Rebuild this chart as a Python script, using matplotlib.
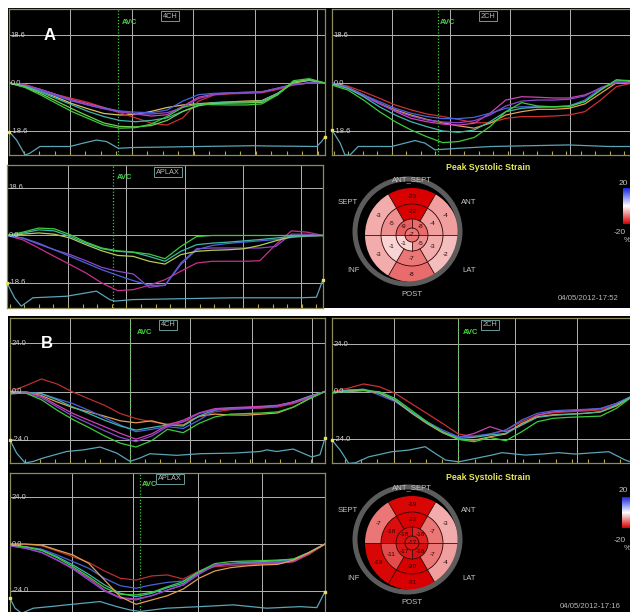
import numpy as np
import matplotlib
matplotlib.use("Agg")
import matplotlib.pyplot as plt
import matplotlib.transforms as mtransforms
from matplotlib.patches import Wedge, Circle, Rectangle
from matplotlib.colors import LinearSegmentedColormap

plt.rcParams['font.family'] = ['Liberation Sans', 'DejaVu Sans']

W, H = 630, 612

# ---------------- data ----------------
T = list(range(0, 101, 5))  # % of cardiac cycle

# Panel A, 4CH
A4CH_GREEN = [0, -1.7, -4.6, -7.9, -11.1, -13.7, -16.3, -17.5, -17.3, -15.9, -13.0, -9.4, -8.1, -8.4, -8.5, -8.5, -8.1, -4.6, 0.9, 1.7, 0]
A4CH_GREEN2 = [0, -1.5, -4.0, -7.0, -10.0, -12.8, -15.5, -16.8, -17.0, -16.5, -14.5, -11.0, -8.8, -7.9, -7.8, -7.7, -7.5, -4.5, 0.4, 1.4, 0]
A4CH_TEAL = [0, -1.2, -3.5, -6.0, -8.5, -11.0, -13.0, -14.5, -15.0, -14.5, -13.5, -11.0, -8.5, -7.6, -7.4, -7.3, -7.0, -4.0, 0.3, 1.2, 0]
A4CH_YELLOW = [0, -1.0, -3.0, -5.5, -8.0, -10.0, -11.8, -12.4, -12.2, -11.0, -9.5, -8.5, -8.0, -7.6, -7.3, -7.0, -6.8, -4.0, 0.0, 1.0, 0]
A4CH_RED = [0, -0.5, -2.5, -4.5, -6.0, -7.5, -9.5, -11.5, -13.5, -15.5, -16.3, -13.5, -7.0, -4.6, -4.2, -4.0, -3.8, -2.5, -0.8, 0, 0]
A4CH_MAGENTA = [0, -1.0, -2.5, -4.5, -6.5, -8.0, -9.5, -11.0, -12.0, -12.8, -12.3, -9.0, -5.5, -4.2, -3.8, -3.6, -3.4, -2.0, -0.5, 0, 0]
A4CH_BLUE = [0, -1.0, -3.0, -5.0, -7.0, -8.5, -9.8, -10.8, -11.3, -11.5, -10.5, -7.0, -4.5, -4.0, -3.8, -3.6, -3.4, -2.0, -0.6, 0, 0]
A4CH_PURPLE = [0, -0.8, -2.5, -4.5, -6.8, -8.5, -10.0, -11.2, -12.0, -12.0, -11.5, -9.5, -6.0, -4.5, -4.0, -3.8, -3.5, -2.2, -0.5, 0, 0]
A4CH_ECG_T = [0, 2.4, 5.1, 6.6, 9.8, 19.3, 23.5, 27.7, 30.9, 34.6, 39.3, 60.4, 77.3, 81.5, 97.4, 98.9, 100]
A4CH_ECG_V = [-18.8, -22.1, -27.9, -27.2, -24.6, -24.6, -23.3, -22.1, -22.7, -25.3, -25.0, -24.6, -24.3, -24.4, -24.6, -22.7, -20.8]
A4CH_AVC = 34.6

# Panel A, 2CH
A2CH_GREEN = [-0.8, -2.7, -6.6, -11.1, -15.0, -18.2, -20.8, -23.1, -22.7, -21.1, -16.9, -11.1, -7.6, -8.9, -9.2, -9.2, -7.2, -2.7, 1.2, 0.9, 0]
A2CH_TEAL = [-0.4, -2.1, -5.3, -9.2, -12.4, -15.0, -16.9, -18.6, -19.1, -18.2, -15.0, -11.1, -9.8, -9.4, -9.2, -8.9, -7.2, -2.7, 1.2, 0.5, 0]
A2CH_ORANGE = [0, -1.7, -4.6, -7.9, -10.4, -12.4, -14.1, -15.4, -16.6, -17.5, -15.6, -12.4, -11.1, -10.2, -10.2, -9.8, -8.1, -4.0, 0.1, 0, 0]
A2CH_RED = [0, -1.2, -3.4, -5.9, -8.5, -10.4, -12.0, -13.0, -14.1, -15.4, -15.4, -13.7, -13.0, -13.0, -12.8, -12.4, -11.1, -6.6, -1.4, 0, 0]
A2CH_MAGENTA = [0, -1.7, -4.6, -7.9, -11.0, -13.7, -15.0, -15.9, -16.3, -15.6, -11.7, -6.6, -5.3, -5.5, -5.8, -5.8, -4.6, -2.1, 0.1, 0.1, 0]
A2CH_BLUE = [0, -1.7, -4.6, -7.2, -9.8, -11.7, -13.0, -13.8, -13.8, -13.3, -11.7, -9.8, -9.2, -9.2, -9.2, -8.9, -6.6, -2.1, 0.5, 0.1, 0]
A2CH_PURPLE = [-0.4, -1.9, -5.0, -8.1, -10.7, -12.8, -14.3, -15.1, -15.4, -14.6, -12.4, -8.9, -7.0, -6.6, -6.6, -6.3, -5.0, -1.8, 0.4, 0.1, 0]
A2CH_ECG_T = [0, 2.6, 4.1, 5.7, 8.3, 18.9, 26.3, 29.4, 32.6, 40, 50.5, 74.8, 87.5, 100]
A2CH_ECG_V = [-18.2, -23.3, -27.9, -27.9, -24.6, -24.6, -22.3, -23.3, -25.9, -25.3, -24.6, -24.0, -24.6, -24.6]
A2CH_AVC = 33.5

# Panel A, APLAX
AAPLAX_GREEN = [0, 1.3, 2.9, 2.6, 0.3, -2.6, -4.9, -6.0, -6.5, -7.3, -9.1, -4.3, -0.4, 0, 0, 0, 0, 0, 0, 0, 0]
AAPLAX_TEAL = [0, 0.9, 2.2, 1.8, -0.4, -3.0, -5.2, -6.2, -6.6, -8.2, -10.1, -6.2, -3.6, -3.0, -2.6, -2.1, -1.6, -1.0, -0.4, -0.1, 0]
AAPLAX_YGREEN = [0, 0.5, 1.0, 0.5, -1.0, -3.6, -6.0, -7.8, -8.2, -10.1, -11.2, -7.5, -6.2, -5.8, -5.6, -5.2, -3.9, -2.1, -0.5, -0.1, 0]
AAPLAX_MAGENTA = [0, -1.0, -3.4, -5.6, -7.5, -9.9, -12.5, -14.0, -15.1, -20.3, -19.5, -10.8, -5.2, -4.9, -4.9, -4.9, -4.9, -4.3, 0.5, 0.5, 0]
AAPLAX_RED = [0, -1.7, -4.9, -8.2, -11.4, -14.7, -18.6, -21.6, -21.2, -19.5, -17.3, -14.0, -10.8, -10.1, -10.1, -10.1, -9.9, -3.6, 1.8, 1.3, 0]
AAPLAX_BLUE = [0, -1.0, -3.0, -5.6, -8.2, -10.8, -13.4, -15.6, -17.7, -19.5, -19.5, -11.4, -5.6, -3.9, -3.1, -2.6, -2.1, -1.6, -0.8, -0.3, 0]
AAPLAX_ECG_T = [0, 2.4, 4.5, 8.2, 18.8, 28.3, 32.5, 34.1, 39.9, 71.5, 92.6, 97.9, 100]
AAPLAX_ECG_V = [-18.6, -24.4, -27.7, -24.4, -23.8, -21.8, -25.1, -25.7, -25.1, -24.4, -24.4, -24.2, -17.3]
AAPLAX_AVC = 33.5

# Panel B, 4CH
B4CH_RED = [0, 2.9, 6.2, 3.7, -0.3, -3.6, -6.8, -10.9, -13.4, -15.0, -16.1, -15.0, -12.6, -10.1, -9.0, -8.5, -8.2, -7.7, -6.0, -3.1, 0]
B4CH_ORANGE = [0, -0.3, -2.0, -5.2, -8.0, -10.1, -12.2, -14.5, -15.5, -14.5, -16.6, -16.6, -12.2, -11.2, -11.6, -11.7, -11.2, -10.6, -7.7, -3.6, 0]
B4CH_BLUE = [-1.1, -0.3, -1.1, -3.6, -6.0, -9.3, -12.9, -16.6, -19.9, -18.7, -17.4, -18.3, -14.2, -9.3, -8.5, -8.0, -7.7, -7.0, -5.2, -2.4, 0]
B4CH_TEAL = [-1.1, -0.3, -1.1, -4.1, -7.7, -10.9, -14.2, -17.1, -19.1, -17.8, -16.6, -17.1, -12.2, -9.0, -8.3, -8.0, -7.7, -7.0, -5.2, -2.4, 0]
B4CH_MAGENTA = [-1.1, -0.3, -2.4, -6.8, -10.9, -14.2, -17.4, -20.7, -23.6, -21.0, -16.6, -14.2, -10.6, -8.5, -8.0, -7.7, -7.3, -6.8, -5.2, -2.8, 0]
B4CH_PURPLE = [-1.1, -0.8, -3.1, -7.7, -12.2, -15.8, -19.4, -22.7, -24.8, -22.0, -17.4, -15.0, -10.9, -9.0, -8.6, -8.3, -8.0, -7.3, -5.7, -3.1, 0]
B4CH_GREEN = [-1.1, -0.8, -4.1, -9.3, -13.9, -17.8, -22.0, -25.6, -27.5, -24.3, -18.7, -20.4, -15.8, -12.6, -11.2, -10.9, -10.6, -10.1, -7.7, -3.6, 0]
B4CH_ECG_T = [0, 2.1, 4.8, 7.4, 10.6, 18, 23.3, 28.6, 33.9, 38.1, 41.3, 44.4, 52.9, 60.3, 70.9, 79.4, 81.5, 84.7, 89.9, 95.8, 98.4, 100]
B4CH_ECG_V = [-24.0, -30.5, -35.4, -34.6, -32.9, -29.7, -28.9, -27.5, -30.5, -34.6, -32.9, -30.8, -31.6, -30.8, -30.5, -29.7, -28.9, -29.7, -28.5, -32.4, -31.3, -23.1]
B4CH_AVC = 38.1

# Panel B, 2CH
B2CH_RED = [0, 1.7, 3.9, 2.5, -0.8, -5.9, -10.9, -16.0, -21.3, -22.7, -21.3, -19.3, -15.1, -11.8, -10.6, -10.1, -9.7, -9.2, -6.7, -2.2, 0]
B2CH_GREEN = [-0.5, 0, 0.5, 0, -3.4, -9.2, -15.1, -20.2, -24.0, -25.2, -23.0, -24.7, -20.2, -15.1, -13.4, -12.9, -12.6, -12.3, -8.4, -2.5, 0]
B2CH_MAGENTA = [-0.8, 0.3, 0.8, -0.5, -4.2, -10.1, -15.6, -20.2, -23.0, -21.0, -17.6, -20.2, -16.8, -11.8, -10.1, -9.7, -9.2, -8.6, -5.9, -2.2, 0]
B2CH_BLUE = [-0.8, 0.8, 1.2, -1.7, -5.0, -10.1, -15.1, -19.3, -22.7, -22.3, -21.3, -19.3, -14.3, -10.9, -9.6, -9.2, -8.9, -8.4, -5.9, -2.2, 0]
B2CH_ORANGE = [-0.5, 0.5, 0.8, -0.8, -4.5, -10.6, -16.0, -20.7, -24.0, -24.4, -22.7, -21.3, -16.0, -12.6, -11.6, -11.3, -10.9, -10.2, -7.2, -2.5, 0]
B2CH_TEAL = [-0.5, 0.8, 1.2, -0.5, -4.2, -10.1, -15.6, -20.2, -23.5, -23.0, -21.8, -21.0, -16.8, -12.9, -11.9, -11.4, -10.9, -10.1, -6.7, -2.2, 0]
B2CH_ECG_T = [0, 2.6, 5.3, 7.4, 11.6, 19, 24.3, 29.5, 32.7, 35.9, 40.1, 45.4, 50.6, 53.8, 61.2, 66.5, 71.7, 77, 87.6, 92.8, 94.4, 100]
B2CH_ECG_V = [-24.4, -29.4, -36.1, -35.8, -32.8, -30.2, -29.4, -27.7, -31.1, -34.4, -35.3, -33.6, -31.9, -30.7, -31.9, -31.4, -30.7, -31.4, -30.2, -34.4, -35.3, -33.6]
B2CH_AVC = 40.0

# Panel B, APLAX
BAPLAX_ORANGE = [0, 0, -0.5, -3.1, -5.6, -9.9, -18.4, -26.9, -30.8, -28.6, -26.4, -23.0, -17.5, -13.8, -12.1, -11.2, -10.7, -10.4, -8.2, -4.3, 0]
BAPLAX_RED = [0, -0.2, -0.9, -3.6, -6.5, -9.4, -13.8, -17.5, -18.4, -16.3, -15.8, -17.9, -13.8, -11.6, -11.1, -10.7, -10.4, -10.0, -9.0, -5.3, 0]
BAPLAX_BLUE = [-0.5, -1.4, -2.6, -5.6, -9.0, -12.4, -17.5, -21.3, -22.6, -20.9, -19.6, -18.9, -14.1, -10.7, -10.0, -9.5, -9.4, -9.0, -8.0, -4.3, 0]
BAPLAX_TEAL = [-0.5, -1.5, -3.1, -6.5, -10.7, -15.5, -20.9, -25.2, -26.9, -25.2, -22.3, -20.1, -14.5, -11.1, -10.0, -9.4, -9.0, -8.5, -7.7, -4.3, 0]
BAPLAX_MAGENTA = [-0.9, -2.2, -4.3, -8.2, -12.4, -17.5, -23.5, -27.4, -28.1, -26.4, -23.5, -20.9, -15.0, -11.1, -10.2, -10.0, -9.9, -9.7, -9.0, -4.8, 0]
BAPLAX_PURPLE = [-0.9, -2.2, -4.3, -8.2, -12.8, -18.4, -24.0, -27.7, -28.6, -26.4, -23.5, -20.9, -15.5, -10.7, -10.0, -9.9, -9.7, -9.4, -8.7, -4.3, 0]
BAPLAX_GREEN = [-0.5, -1.5, -3.2, -7.0, -11.6, -16.7, -22.3, -25.7, -26.0, -24.7, -21.8, -19.2, -14.1, -10.0, -9.0, -8.7, -8.5, -8.2, -7.7, -4.3, 0]
BAPLAX_ECG_T = [0, 1.6, 3.7, 7.4, 12.7, 18, 28.6, 33.9, 38.1, 41.3, 49.7, 60.3, 70.9, 81.5, 92.1, 97.4, 100]
BAPLAX_ECG_V = [-27.7, -32.8, -35.4, -32.8, -32.0, -31.1, -29.4, -32.0, -33.7, -34.5, -32.8, -32.0, -31.1, -32.8, -32.0, -32.5, -24.3]
BAPLAX_AVC = 41.3

# Bullseye peak systolic strain (%): basal/mid order ANT_SEPT, ANT, LAT, POST, INF, SEPT
A_BASAL = [-23, -4, -2, -8, -3, -3]
A_MID = [-22, -4, -3, -7, -1, -5]
A_APICAL = [-9, -8, -5, -1]   # upper-left, upper-right, lower-right, lower-left
A_APEX = -7
B_BASAL = [-19, -3, -4, -31, -19, -7]
B_MID = [-22, -7, -7, -20, -11, -18]
B_APICAL = [-18, -16, -18, -17]
B_APEX = -17
WALL_LABELS = ["ANT_SEPT", "SEPT", "ANT", "INF", "LAT", "POST"]

# ---------------- styling ----------------
COL = dict(green='#3ccc3c', green2='#6fd050', teal='#3fb8a8', ygreen='#b4cc50',
           yellow='#e2c060', orange='#e0a050', red='#cc3030', magenta='#cc44b4',
           blue='#4a64d8', purple='#8c48cc')
ECG_COL = '#5aa5b8'
GRID_COL = '#b4b4b4'
FRAME_COL = '#8c8c5c'

fig = plt.figure(figsize=(W / 100, H / 100), dpi=100)
fig.patch.set_facecolor('white')


def px_rect(x0, y0, x1, y1):
    return [x0 / W, 1 - y1 / H, (x1 - x0) / W, (y1 - y0) / H]


def ftext(x, y, s, **kw):
    return fig.text(x / W, 1 - y / H, s, **kw)


# black panel backgrounds
for (x0, y0, x1, y1) in [(8, 8, 630, 308), (8, 316, 630, 612)]:
    fig.add_artist(Rectangle((x0 / W, 1 - y1 / H), (x1 - x0) / W, (y1 - y0) / H,
                             transform=fig.transFigure, fc='black', ec='none', zorder=-5))


def strain_panel(rect, ylim, mark, grid_t, avc_t, avc_off, view, view_xy, curves, ecg_t, ecg_v):
    ax = fig.add_axes(px_rect(*rect))
    ax.set_facecolor('black')
    ax.set_xlim(0, 100)
    ax.set_ylim(*ylim)
    for s in ax.spines.values():
        s.set_color(FRAME_COL)
        s.set_linewidth(0.9)
    for yv in (mark, 0, -mark):
        ax.axhline(yv, color=GRID_COL, lw=0.7, zorder=1)
    for g in grid_t:
        ax.axvline(g, color=GRID_COL, lw=0.7, zorder=1)
    ax.axvline(avc_t, color='#3cc83c', ls=(0, (1, 1.5)), lw=0.9, zorder=2)
    step = (grid_t[1] - grid_t[0]) / 4
    ticks = np.arange(grid_t[0] % step, 100, step)
    ax.set_xticks(ticks)
    ax.set_yticks([])
    ax.tick_params(axis='x', direction='in', length=3, width=0.8, color='#b8a848', labelbottom=False)
    trans = mtransforms.blended_transform_factory(ax.transAxes, ax.transData)
    for yv, lab in zip((mark, 0, -mark), (f"{mark:.1f}", "0.0", f"-{mark:.1f}")):
        ax.text(0.004, yv, lab, transform=trans, color='#d0d0d0', fontsize=5.5,
                va='center', ha='left', zorder=5)
    for vals, c in curves:
        ax.plot(T, vals, color=c, lw=0.9, zorder=3)
    ax.plot(ecg_t, ecg_v, color=ECG_COL, lw=0.9, zorder=3)
    ax.plot([ecg_t[0], ecg_t[-1]], [ecg_v[0], ecg_v[-1]], 's', color='#e8e060', ms=1.8, zorder=4,
            clip_on=False)
    ax.annotate('AVC', xy=(avc_t, 1), xycoords=('data', 'axes fraction'),
                xytext=avc_off, textcoords='offset pixels', color='#44d444',
                fontsize=5.5, fontweight='bold', va='center', ha='left', zorder=6)
    ftext(view_xy[0], view_xy[1], view, color='#b8b8b8', fontsize=5.3, ha='center', va='center',
          bbox=dict(boxstyle='square,pad=0.25', fc='black', ec='#6a9a9a', lw=0.7), zorder=7)
    return ax


strain_panel((9, 9, 325, 155), (-27.9, 28.7), 18.6, [19.3, 38.9, 58.2, 77.8, 97.5],
             A4CH_AVC, (3, -14), '4CH', (170, 16),
             [(A4CH_YELLOW, COL['yellow']), (A4CH_RED, COL['red']), (A4CH_MAGENTA, COL['magenta']),
              (A4CH_BLUE, COL['blue']), (A4CH_PURPLE, COL['purple']), (A4CH_TEAL, COL['teal']),
              (A4CH_GREEN2, COL['green2']), (A4CH_GREEN, COL['green'])],
             A4CH_ECG_T, A4CH_ECG_V)

strain_panel((332, 9, 648, 155), (-27.9, 28.7), 18.6, [18.9, 37.3, 56.3, 75.3, 94.3],
             A2CH_AVC, (2, -14), '2CH', (488, 16),
             [(A2CH_RED, COL['red']), (A2CH_ORANGE, COL['orange']), (A2CH_MAGENTA, COL['magenta']),
              (A2CH_BLUE, COL['blue']), (A2CH_PURPLE, COL['purple']), (A2CH_TEAL, COL['teal']),
              (A2CH_GREEN, COL['green'])],
             A2CH_ECG_T, A2CH_ECG_V)

strain_panel((7, 165, 323, 308), (-28.4, 27.6), 18.6, [19.3, 37.8, 56.2, 74.7, 93.1],
             AAPLAX_AVC, (4, -13), 'APLAX', (168, 172),
             [(AAPLAX_RED, '#c8308c'), (AAPLAX_MAGENTA, COL['purple']), (AAPLAX_BLUE, COL['blue']),
              (AAPLAX_YGREEN, COL['ygreen']), (AAPLAX_TEAL, COL['teal']), (AAPLAX_GREEN, COL['green'])],
             AAPLAX_ECG_T, AAPLAX_ECG_V)

strain_panel((10, 318, 325, 463), (-35.4, 36.4), 24.0, [19.0, 38.1, 57.1, 76.7, 95.8],
             B4CH_AVC, (7, -15), '4CH', (168, 325),
             [(B4CH_RED, '#b83030'), (B4CH_ORANGE, COL['orange']), (B4CH_BLUE, COL['blue']),
              (B4CH_TEAL, COL['teal']), (B4CH_MAGENTA, COL['magenta']), (B4CH_PURPLE, COL['purple']),
              (B4CH_GREEN, COL['green'])],
             B4CH_ECG_T, B4CH_ECG_V)

strain_panel((332, 318, 648, 463), (-35.9, 37.1), 24.0, [19.5, 40.0, 58.0, 77.5, 97.0],
             B2CH_AVC, (4, -14), '2CH', (490, 325),
             [(B2CH_RED, COL['red']), (B2CH_MAGENTA, COL['magenta']), (B2CH_BLUE, COL['blue']),
              (B2CH_ORANGE, COL['orange']), (B2CH_TEAL, COL['teal']), (B2CH_GREEN, COL['green'])],
             B2CH_ECG_T, B2CH_ECG_V)

strain_panel((10, 473, 325, 617), (-37.3, 36.3), 24.0, [19.6, 39.2, 59.8, 79.9],
             BAPLAX_AVC, (2, -12), 'APLAX', (170, 479),
             [(BAPLAX_RED, '#b83030'), (BAPLAX_BLUE, COL['blue']), (BAPLAX_TEAL, COL['teal']),
              (BAPLAX_MAGENTA, COL['magenta']), (BAPLAX_PURPLE, COL['purple']),
              (BAPLAX_GREEN, COL['green']), (BAPLAX_ORANGE, COL['orange'])],
             BAPLAX_ECG_T, BAPLAX_ECG_V)

# panel letters
ftext(50, 35, 'A', color='white', fontsize=12, fontweight='bold', ha='center', va='center')
ftext(47, 343, 'B', color='white', fontsize=12, fontweight='bold', ha='center', va='center')

CMAP = LinearSegmentedColormap.from_list('strain', ['#d80000', '#ffffff', '#1828e0'])


def strain_color(v):
    x = 0.5 + 0.5 * np.sign(v) * min(abs(v) / 20.0, 1.0) ** 0.6
    return CMAP(x)


def bullseye(rect, ylim, basal, mid, apical, apex, cbar_rect, cbar_y, date_xy, date):
    ax = fig.add_axes(px_rect(*rect))
    ax.set_xlim(-82, 218)
    ax.set_ylim(*ylim)
    ax.axis('off')
    r_apex, r_ap, r_mid, r_bas = 7, 16, 31, 47
    c6 = [90, 30, -30, -90, -150, 150]
    c4 = [135, 45, -45, -135]
    txt = dict(color='#1e0505', fontsize=4.6, ha='center', va='center', zorder=8)
    for vals, r0, r1 in [(basal, r_mid, r_bas), (mid, r_ap, r_mid)]:
        for ang, v in zip(c6, vals):
            ax.add_patch(Wedge((0, 0), r1, ang - 30, ang + 30, width=r1 - r0,
                               fc=strain_color(v), ec='none', zorder=2))
            rm = (r0 + r1) / 2
            ax.text(rm * np.cos(np.radians(ang)), rm * np.sin(np.radians(ang)), str(v), **txt)
    for ang, v in zip(c4, apical):
        ax.add_patch(Wedge((0, 0), r_ap, ang - 45, ang + 45, width=r_ap - r_apex,
                           fc=strain_color(v), ec='none', zorder=2))
        rm = (r_apex + r_ap) / 2
        ax.text(rm * np.cos(np.radians(ang)), rm * np.sin(np.radians(ang)), str(v), **txt)
    ax.add_patch(Circle((0, 0), r_apex, fc=strain_color(apex), ec='none', zorder=2))
    ax.text(0, 0, str(apex), **txt)
    lc = '#3a0c0c'
    for r in (r_apex, r_ap, r_mid):
        ax.add_patch(Circle((0, 0), r, fill=False, ec=lc, lw=0.6, zorder=4))
    for ang in (60, 120, 240, 300):
        a = np.radians(ang)
        ax.plot([r_ap * np.cos(a), r_bas * np.cos(a)], [r_ap * np.sin(a), r_bas * np.sin(a)],
                color=lc, lw=0.6, zorder=4)
    ax.plot([-r_bas, r_bas], [0, 0], color=lc, lw=0.6, zorder=4)
    ax.plot([0, 0], [r_apex, r_ap], color=lc, lw=0.6, zorder=4)
    ax.plot([0, 0], [-r_apex, -r_ap], color=lc, lw=0.6, zorder=4)
    ax.add_patch(Circle((-4.5, 3.5), 52.5, fill=False, ec='#5c5c5c', lw=3.6, zorder=5))
    lab = dict(color='#c4c4c4', fontsize=5.6, ha='center', va='center', zorder=9)
    pos = [(0, 55), (-64, 32), (57, 32), (-58, -35), (57, -35), (0, -60)]
    for name, (x, y) in zip(WALL_LABELS, pos):
        ax.text(x, y, name, **lab)
    ax.text(76, ylim[1] - 8, 'Peak Systolic Strain', color='#e6e65a', fontsize=6.3,
            fontweight='bold', ha='center', va='center')
    cax = fig.add_axes(px_rect(*cbar_rect))
    cax.imshow(np.linspace(1, 0, 100).reshape(-1, 1), cmap=CMAP, aspect='auto')
    cax.axis('off')
    ftext(619, cbar_y[0], '20', color='#c4c4c4', fontsize=6, ha='left', va='center')
    ftext(614, cbar_y[1], '-20', color='#c4c4c4', fontsize=6, ha='left', va='center')
    ftext(624, cbar_y[2], '%', color='#c4c4c4', fontsize=5.5, ha='left', va='center')
    ftext(date_xy[0], date_xy[1], date, color='#b8b8b8', fontsize=5.6, ha='left', va='center')


bullseye((330, 160, 630, 308), (-73, 75), A_BASAL, A_MID, A_APICAL, A_APEX,
         (623, 188, 634, 224), (183, 232, 241), (558, 299), '04/05/2012-17:52')
bullseye((330, 470, 630, 612), (-69, 73), B_BASAL, B_MID, B_APICAL, B_APEX,
         (622, 497, 634, 528), (490, 540, 549), (560, 607), '04/05/2012-17:16')

fig.savefig('out.png', dpi=100, facecolor='white')
